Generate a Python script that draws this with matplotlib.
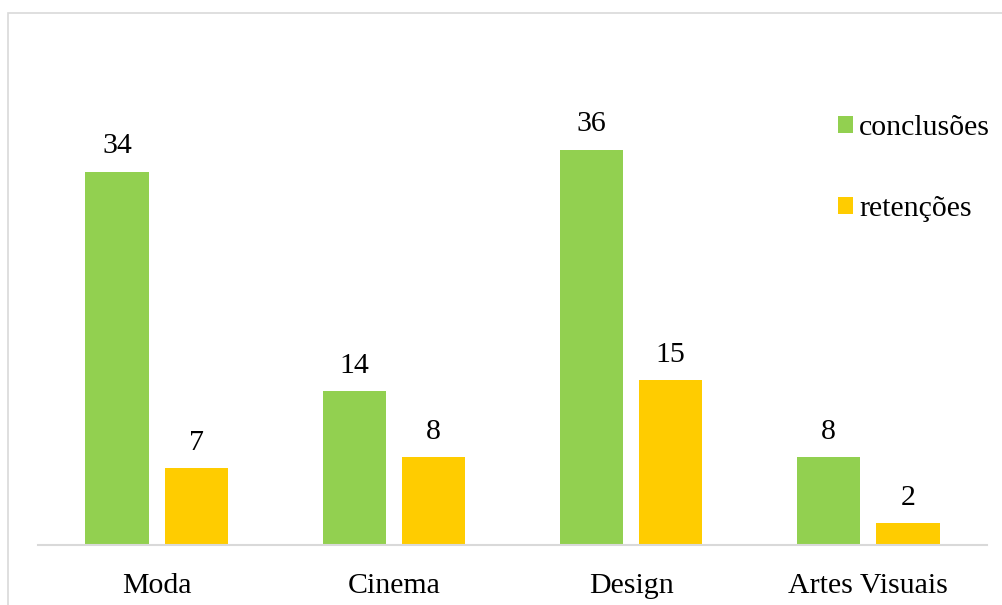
import matplotlib.pyplot as plt
from matplotlib.patches import Rectangle
import numpy as np

categories = ['Moda', 'Cinema', 'Design', 'Artes Visuais']
conclusoes = [34, 14, 36, 8]
retencoes = [7, 8, 15, 2]

GREEN = '#92D050'
YELLOW = '#FFCC00'
GRID = '#D9D9D9'
FS = 21.5

plt.rcParams['font.family'] = ['Liberation Serif', 'DejaVu Serif']

W, H = 1003, 605
fig = plt.figure(figsize=(W / 100, H / 100), dpi=100)

# chart border (extends past right/bottom edge)
fig.patches.append(Rectangle((8 / W, -0.1), 1.2, 1 - 13 / H + 0.1,
                             transform=fig.transFigure, fill=False,
                             edgecolor=GRID, linewidth=1.2))

ax = fig.add_axes([38 / W, 1 - 545 / H, (987 - 38) / W, (545 - 106) / H])
x = np.arange(len(categories))
bw = 0.266
off = 0.167
b1 = ax.bar(x - off, conclusoes, bw, color=GREEN, label='conclusões')
b2 = ax.bar(x + off, retencoes, bw, color=YELLOW, label='retenções')

for bars in (b1, b2):
    ax.bar_label(bars, padding=9, fontsize=FS)

ax.set_xlim(-0.5, len(categories) - 0.5)
ax.set_ylim(0, 40)
ax.set_xticks(x)
ax.set_xticklabels(categories, fontsize=FS)
ax.tick_params(axis='x', length=0, pad=20)
ax.set_yticks([])
for s in ('top', 'right', 'left'):
    ax.spines[s].set_visible(False)
ax.spines['bottom'].set_color(GRID)
ax.spines['bottom'].set_linewidth(1.5)

leg = ax.legend(loc='upper left', bbox_to_anchor=(838 / W, 1 - 115 / H),
                bbox_transform=fig.transFigure, frameon=False, fontsize=FS,
                handlelength=0.5, handleheight=0.5, handletextpad=0.2,
                labelspacing=1.83, borderpad=0, borderaxespad=0)

fig.savefig('out.png', dpi=100)
